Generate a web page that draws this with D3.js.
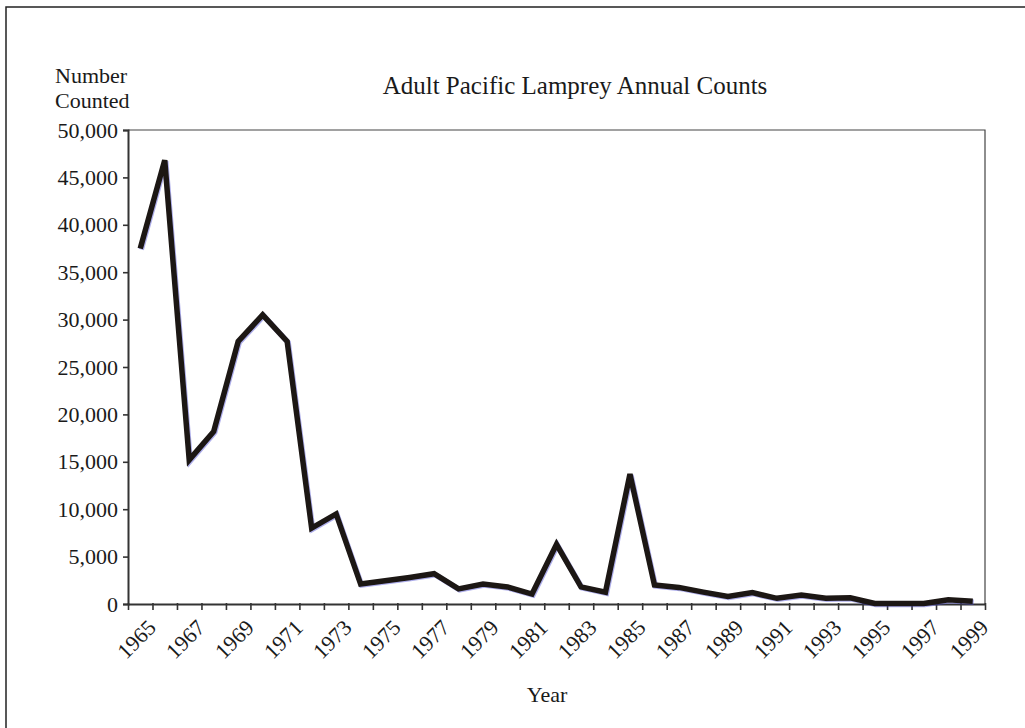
<!DOCTYPE html>
<html>
<head>
<meta charset="utf-8">
<script src="https://cdnjs.cloudflare.com/ajax/libs/d3/7.8.5/d3.min.js"></script>
<style>
  body { margin: 0; background: #fff; }
  svg text { font-family: "Liberation Serif", "Times New Roman", serif; fill: #1a1a1a; }
</style>
</head>
<body>
<svg id="chart" width="1025" height="728"></svg>
<script>
// Data
const years = [1965, 1966, 1967, 1968, 1969, 1970, 1971, 1972, 1973, 1974,
               1975, 1976, 1977, 1978, 1979, 1980, 1981, 1982, 1983, 1984,
               1985, 1986, 1987, 1988, 1989, 1990, 1991, 1992, 1993, 1994,
               1995, 1996, 1997, 1998, 1999];
const counts = [37500, 46800, 15200, 18200, 27700, 30500, 27700, 8000, 9500, 2100,
                2450, 2800, 3200, 1600, 2100, 1800, 1050, 6300, 1800, 1250,
                13700, 2000, 1750, 1250, 800, 1200, 600, 950, 600, 650,
                50, 50, 50, 450, 300];
const xTickLabels = ["1965", "1967", "1969", "1971", "1973", "1975", "1977", "1979", "1981",
                     "1983", "1985", "1987", "1989", "1991", "1993", "1995", "1997", "1999"];
const yTicks = [0, 5000, 10000, 15000, 20000, 25000, 30000, 35000, 40000, 45000, 50000];

const svg = d3.select("#chart");
const plot = {left: 128, right: 985, top: 130, bottom: 604};

// outer frame (runs off the right and bottom of the picture)
svg.append("rect")
  .attr("x", 6).attr("y", 7)
  .attr("width", 1040).attr("height", 740)
  .attr("fill", "none").attr("stroke", "#222").attr("stroke-width", 1.5);

const x = d3.scaleBand().domain(years).range([plot.left, plot.right]);
const xEdge = d3.scaleLinear().domain([0, years.length]).range([plot.left, plot.right]);
const y = d3.scaleLinear().domain([0, 50000]).range([plot.bottom, plot.top]);

// thin top and right frame of the plot area
svg.append("path")
  .attr("d", `M${plot.left},${plot.top}H${plot.right}V${plot.bottom}`)
  .attr("fill", "none").attr("stroke", "#444").attr("stroke-width", 1.2);

// y axis
const yAxis = svg.append("g")
  .attr("transform", `translate(${plot.left},0)`)
  .call(d3.axisLeft(y).tickValues(yTicks).tickFormat(d3.format(",")).tickSize(5).tickPadding(5));
yAxis.selectAll("text").style("font-size", "22px").attr("fill", "#1a1a1a");

// x axis, ticks at the category edges
const xAxis = svg.append("g")
  .attr("transform", `translate(0,${plot.bottom})`)
  .call(d3.axisBottom(xEdge).tickValues(d3.range(0, years.length + 1))
        .tickFormat("").tickSizeInner(6).tickSizeOuter(0));
xAxis.selectAll(".tick line").attr("y1", -1);

[yAxis, xAxis].forEach(g => {
  g.select(".domain").attr("stroke", "#333").attr("stroke-width", 2);
  g.selectAll(".tick line").attr("stroke", "#333").attr("stroke-width", 1.6);
});

// rotated year labels
svg.append("g").selectAll("text")
  .data(xTickLabels)
  .join("text")
  .attr("transform", d => `translate(${x(+d) + x.bandwidth() / 2 + 17},${plot.bottom + 25}) rotate(-45)`)
  .attr("text-anchor", "end")
  .style("font-size", "22px")
  .text(d => d);

// the series
const line = d3.line()
  .x((d, i) => x(years[i]) + x.bandwidth() / 2)
  .y(d => y(d));

svg.append("path")
  .datum(counts)
  .attr("transform", "translate(1,1)")
  .attr("d", line)
  .attr("fill", "none").attr("stroke", "#4a4ad0").attr("stroke-opacity", 0.45)
  .attr("stroke-width", 5.5);

svg.append("path")
  .datum(counts)
  .attr("d", line)
  .attr("fill", "none").attr("stroke", "#1c1714")
  .attr("stroke-width", 5.5).attr("stroke-linejoin", "miter");

// titles
svg.append("text")
  .attr("x", 575).attr("y", 94)
  .attr("text-anchor", "middle")
  .style("font-size", "25px")
  .text("Adult Pacific Lamprey Annual Counts");

svg.append("text").attr("x", 55).attr("y", 83).style("font-size", "22px").text("Number");
svg.append("text").attr("x", 55).attr("y", 108).style("font-size", "22px").text("Counted");

svg.append("text")
  .attr("x", 547).attr("y", 702)
  .attr("text-anchor", "middle")
  .style("font-size", "22px")
  .text("Year");
</script>
</body>
</html>
